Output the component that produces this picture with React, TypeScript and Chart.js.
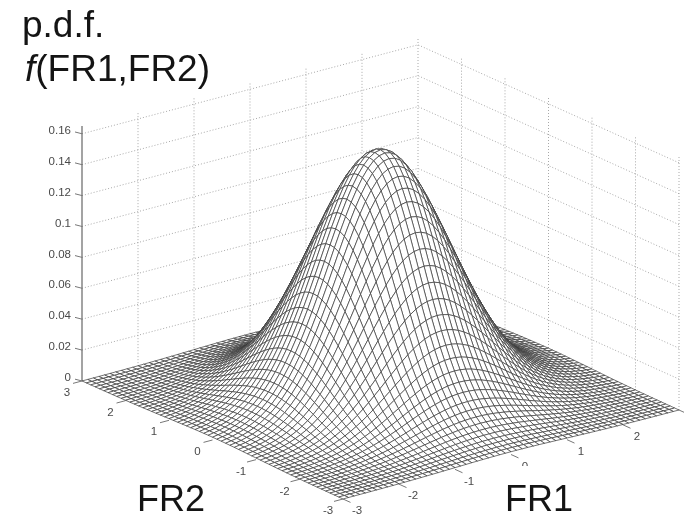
import React, { useEffect, useRef } from "react";
import { Chart, registerables } from "chart.js";

Chart.register(...registerables);

// Height of the surface along the ridge FR2 = 0, FR1 = -3 … 3 in steps of 0.1
const ridgeDensity = [
  0.0018, 0.0024, 0.0031, 0.0042, 0.0054, 0.007, 0.0089, 0.0113, 0.0141, 0.0175,
  0.0215, 0.0262, 0.0315, 0.0375, 0.0442, 0.0516, 0.0597, 0.0683, 0.0774, 0.0868,
  0.0964, 0.1061, 0.1155, 0.1244, 0.1328, 0.1403, 0.1468, 0.152, 0.1559, 0.1582,
  0.159,
  0.1582, 0.1559, 0.152, 0.1468, 0.1403, 0.1328, 0.1244, 0.1155, 0.1061, 0.0964,
  0.0868, 0.0774, 0.0683, 0.0597, 0.0516, 0.0442, 0.0375, 0.0315, 0.0262, 0.0215,
  0.0175, 0.0141, 0.0113, 0.0089, 0.007, 0.0054, 0.0042, 0.0031, 0.0024, 0.0018,
];
const floorTicks = [-3, -2, -1, 0, 1, 2, 3];
const fr1TickLabels = [-3, -2, -1, 0, 1, 2];
const zTicks = [0, 0.02, 0.04, 0.06, 0.08, 0.1, 0.12, 0.14, 0.16];
const zTickLabels = ["0", "0.02", "0.04", "0.06", "0.08", "0.1", "0.12", "0.14", "0.16"];
const zTop = 0.165;
const titleLine1 = "p.d.f.";
const titleItalic = "f";
const titleRest = "(FR1,FR2)";
const fr1Title = "FR1";
const fr2Title = "FR2";

// orthographic view of the box
const FRONT = { x: 343, y: 499 };
const U = { x: 56, y: -14.83 }; // per unit FR1
const V = { x: -43.5, y: -19.67 }; // per unit FR2
const Z = 1545; // per unit density

const project = (a: number, b: number, c: number) => ({
  x: FRONT.x + (a + 3) * U.x + (b + 3) * V.x,
  y: FRONT.y + (a + 3) * U.y + (b + 3) * V.y - c * Z,
});

function line(points: { x: number; y: number }[], extra: object) {
  return {
    data: points,
    showLine: true,
    pointRadius: 0,
    fill: false,
    tension: 0,
    ...extra,
  };
}

function buildDatasets() {
  const sets: any[] = [];
  const n = ridgeDensity.length;
  const peak = ridgeDensity[30];
  const axis = (i: number) => -3 + i * 0.1;
  const height = (i: number, j: number) => (ridgeDensity[i] * ridgeDensity[j]) / peak;
  // first dataset is painted last: front cells first
  for (let s = 0; s <= 2 * (n - 2); s++) {
    for (let i = 0; i < n - 1; i++) {
      const j = s - i;
      if (j < 0 || j >= n - 1) continue;
      const pts = [
        project(axis(i), axis(j), height(i, j)),
        project(axis(i + 1), axis(j), height(i + 1, j)),
        project(axis(i + 1), axis(j + 1), height(i + 1, j + 1)),
        project(axis(i), axis(j + 1), height(i, j + 1)),
        project(axis(i), axis(j), height(i, j)),
      ];
      sets.push(
        line(pts, {
          fill: "shape",
          backgroundColor: "#ffffff",
          borderColor: "#3a3a3a",
          borderWidth: 0.7,
        })
      );
    }
  }
  // ticks and z axis
  const tickStyle = { borderColor: "#777777", borderWidth: 1 };
  floorTicks.forEach((t) => {
    const a = project(-3, t, 0);
    sets.push(line([a, { x: a.x - 9, y: a.y + 2.4 }], tickStyle));
    const b = project(t, -3, 0);
    sets.push(line([b, { x: b.x + 7.5, y: b.y + 3.4 }], tickStyle));
  });
  zTicks.forEach((t) => {
    const a = project(-3, 3, t);
    sets.push(line([a, { x: a.x - 7, y: a.y - 1.8 }], tickStyle));
  });
  sets.push(
    line([project(-3, 3, 0), project(-3, 3, zTop)], { borderColor: "#666666", borderWidth: 1.2 })
  );
  // dotted walls
  const dots = { borderColor: "#a8a8a8", borderWidth: 1, borderDash: [1, 2] };
  zTicks.slice(1).forEach((t) => {
    sets.push(line([project(-3, 3, t), project(3, 3, t), project(3, -3, t)], dots));
  });
  floorTicks.forEach((t) => {
    if (t > -3) sets.push(line([project(t, 3, 0), project(t, 3, zTop)], dots));
    if (t < 3) sets.push(line([project(3, t, 0), project(3, t, zTop)], dots));
  });
  return sets;
}

const textPlugin = {
  id: "boxText",
  afterDatasetsDraw(chart: any) {
    const { ctx, scales } = chart;
    const px = (p: { x: number; y: number }) => ({
      x: scales.x.getPixelForValue(p.x),
      y: scales.y.getPixelForValue(p.y),
    });
    ctx.save();
    ctx.textBaseline = "middle";
    ctx.textAlign = "center";
    ctx.fillStyle = "#4a4a4a";
    ctx.font = '11.5px "Liberation Sans"';
    zTickLabels.forEach((label, k) => {
      const p = px(project(-3, 3, zTicks[k]));
      ctx.textAlign = "right";
      ctx.fillText(label, p.x - 11, p.y - 3);
    });
    ctx.textAlign = "center";
    floorTicks.forEach((t) => {
      const p = px(project(-3, t, 0));
      ctx.fillText(String(t), p.x - 15, p.y + 12);
    });
    fr1TickLabels.forEach((t) => {
      const p = px(project(t, -3, 0));
      ctx.fillText(String(t), p.x + 14, p.y + 12);
    });
    // label boxes cover what lies beneath them
    ctx.fillStyle = "#ffffff";
    ctx.fillRect(115, 466, 110, 51);
    ctx.fillRect(509, 466, 80, 51);
    ctx.fillStyle = "#141414";
    ctx.textAlign = "left";
    ctx.textBaseline = "alphabetic";
    ctx.font = '36px "Liberation Sans"';
    ctx.fillText(fr2Title, 137, 511);
    ctx.fillText(fr1Title, 505, 511);
    ctx.font = '37px "Liberation Sans"';
    ctx.fillText(titleLine1, 22, 37);
    ctx.font = 'italic 37px "Liberation Sans"';
    ctx.fillText(titleItalic, 25, 81);
    const w = ctx.measureText(titleItalic).width;
    ctx.font = '37px "Liberation Sans"';
    ctx.fillText(titleRest, 25 + w, 81);
    ctx.restore();
  },
};

export default function App() {
  const ref = useRef<HTMLCanvasElement | null>(null);
  useEffect(() => {
    const chart = new Chart(ref.current as HTMLCanvasElement, {
      type: "scatter",
      data: { datasets: buildDatasets() },
      options: {
        animation: false,
        responsive: false,
        events: [],
        layout: { padding: 0 },
        scales: {
          x: { type: "linear", display: false, min: 0, max: 684 },
          y: { type: "linear", display: false, min: 0, max: 517, reverse: true },
        },
        plugins: { legend: { display: false }, tooltip: { enabled: false } },
      },
      plugins: [textPlugin],
    } as any);
    return () => chart.destroy();
  }, []);
  return (
    <div style={{ position: "fixed", left: 0, top: 0, width: 684, height: 517, background: "#fff" }}>
      <canvas ref={ref} width={684} height={517} style={{ display: "block" }} />
    </div>
  );
}
